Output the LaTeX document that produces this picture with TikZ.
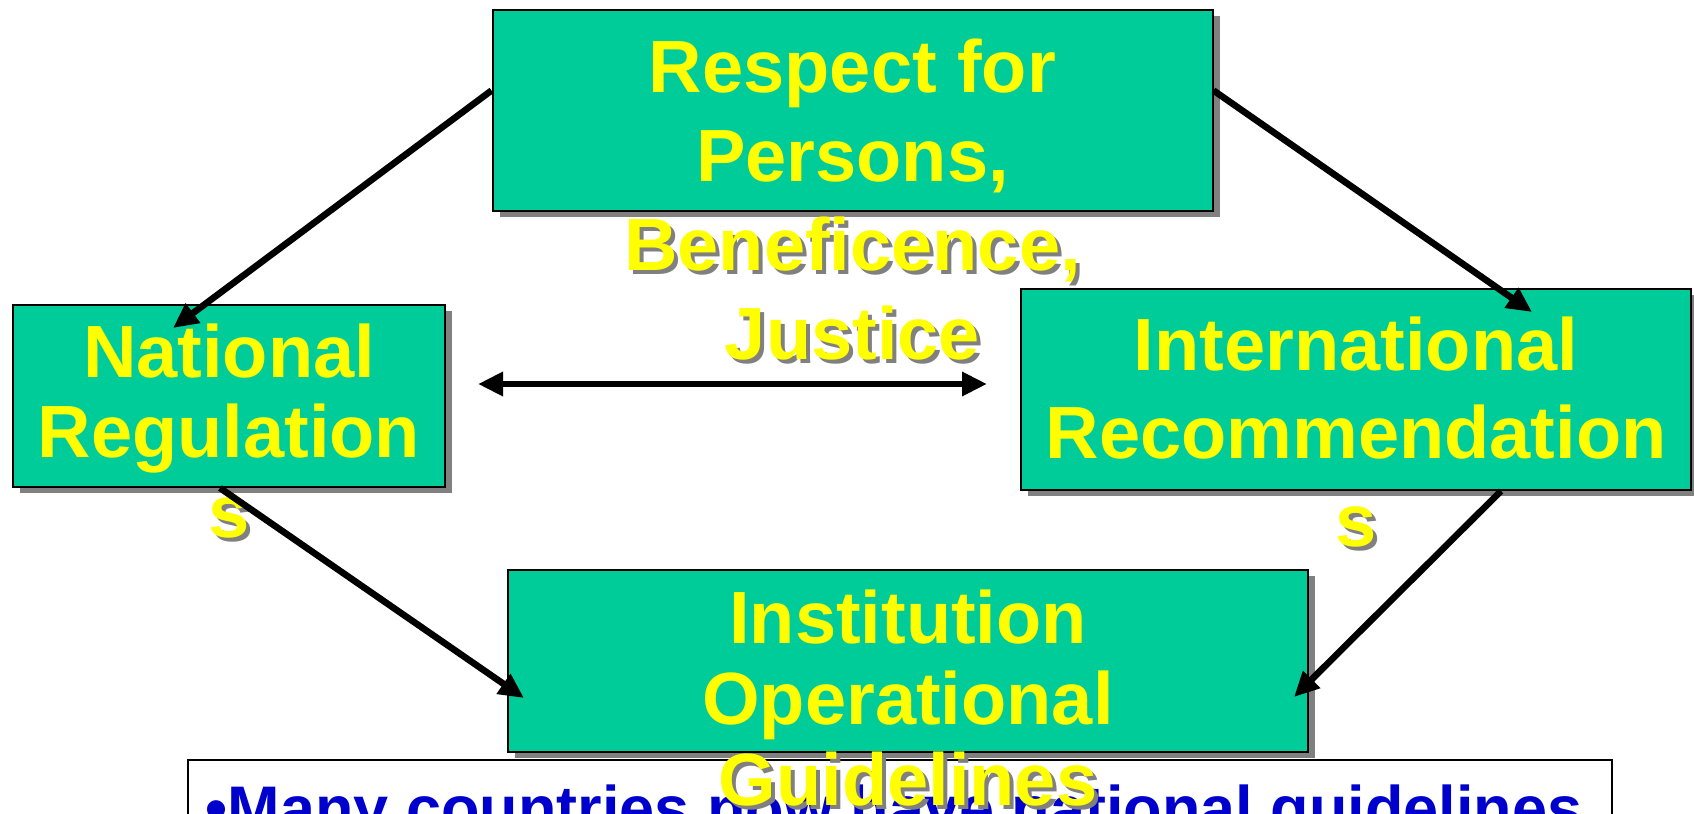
\documentclass[tikz,border=0pt]{standalone}
\usepackage{fontspec}
\setmainfont{Liberation Sans}
\usetikzlibrary{positioning,arrows.meta,shadows}

\definecolor{boxteal}{RGB}{0,204,153}
\definecolor{textyellow}{RGB}{255,255,0}
\definecolor{shadegray}{RGB}{128,128,128}
\definecolor{noteblue}{RGB}{0,0,204}

\pgfdeclarelayer{back}
\pgfdeclarelayer{shade}
\pgfsetlayers{back,shade,main}

\tikzset{
  tealbox/.style={draw=black, line width=1pt, fill=boxteal, inner sep=0pt,
    general shadow={fill=shadegray, shadow xshift=3.5pt, shadow yshift=-3pt}},
  boxtext/.style={text=textyellow, align=center, inner sep=0pt,
    font=\bfseries\fontsize{37}{#1}\selectfont},
  textshade/.style={text=shadegray, xshift=2pt, yshift=-2pt},
  notebox/.style={draw=black, line width=0.8pt, fill=white},
  notetext/.style={text=noteblue, inner sep=0pt, font=\bfseries\fontsize{31.5}{38}\selectfont},
  arrowline/.style={line width=3.3pt, -{Triangle[length=12.5pt,width=11.5pt]}},
  twoway/.style={line width=3.3pt, {Triangle[length=12.5pt,width=11.5pt]}-{Triangle[length=12.5pt,width=11.5pt]}}
}

\begin{document}
\begin{tikzpicture}[x=0.5pt, y=-0.5pt]
        \useasboundingbox (0,0) rectangle (1694,814);

        % Define the four boxes
        \node[tealbox, minimum width=360pt, minimum height=100.5pt] (resp) at (852.5,110.5) {};
        \node[tealbox, minimum width=216pt, minimum height=91pt] (natreg) at (229,396) {};
        \node[tealbox, minimum width=335pt, minimum height=100.5pt] (intrec) at (1356,389.5) {};
        \node[tealbox, minimum width=400pt, minimum height=91pt] (instop) at (908,661) {};

        % Box texts
        \node[boxtext=44.5, below=14.5pt of resp.north] (resptext) {Respect for\\Persons,\\Beneficence,\\Justice};
        \node[boxtext=40, below=9.5pt of natreg.north] (natregtext) {National\\Regulation\\s};
        \node[boxtext=44, below=14pt of intrec.north] (intrectext) {International\\Recommendation\\s};
        \node[boxtext=40.5, below=10pt of instop.north] (instoptext) {Institution\\Operational\\Guidelines};

        % Text shadows, behind the boxes
        \begin{pgfonlayer}{shade}
        \node[boxtext=44.5, textshade, below=14.5pt of resp.north] (respshade) {Respect for\\Persons,\\Beneficence,\\Justice};
        \node[boxtext=40, textshade, below=9.5pt of natreg.north] (natregshade) {National\\Regulation\\s};
        \node[boxtext=44, textshade, below=14pt of intrec.north] (intrecshade) {International\\Recommendation\\s};
        \node[boxtext=40.5, textshade, below=10pt of instop.north] (instopshade) {Institution\\Operational\\Guidelines};
        \end{pgfonlayer}

        % Note at the bottom
        \begin{pgfonlayer}{back}
        \node[notebox, minimum width=712pt, minimum height=70pt] (note) at (900,830) {};
        \node[notetext, anchor=north west] (notetxt) at ([xshift=9pt,yshift=-12.5pt]note.north west) {•Many countries now have national guidelines};
        \end{pgfonlayer}

        % Draw arrows
        \draw[arrowline] ([yshift=10pt]resp.west) -- ([xshift=-28pt,yshift=-12pt]natreg.north);
        \draw[arrowline] ([yshift=10pt]resp.east) -- ([xshift=88pt,yshift=-12pt]intrec.north);
        \draw[twoway] ([xshift=16pt,yshift=6pt]natreg.east) -- ([xshift=-16.5pt,yshift=2.75pt]intrec.west);
        \draw[arrowline] ([xshift=-4.5pt]natreg.south) -- ([xshift=8.5pt,yshift=-18.5pt]instop.west);
        \draw[arrowline] ([xshift=72.5pt]intrec.south) -- ([xshift=-7.5pt,yshift=-18pt]instop.east);

\end{tikzpicture}
\end{document}
